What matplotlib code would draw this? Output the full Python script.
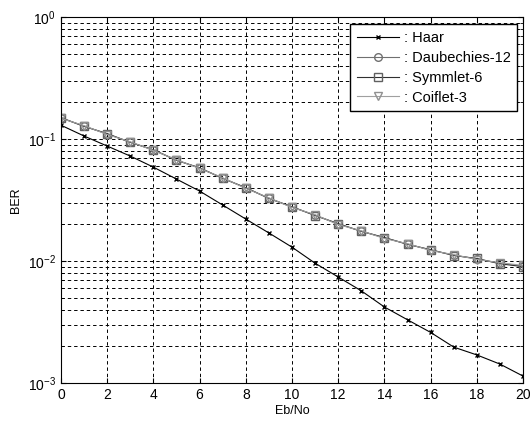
import matplotlib
matplotlib.use("Agg")
import matplotlib.pyplot as plt

plt.rcParams['font.family'] = ['Liberation Sans', 'DejaVu Sans']
plt.rcParams['font.size'] = 9

ebno = list(range(0, 21))

haar = [0.130, 0.106, 0.0877, 0.0726, 0.0589, 0.047, 0.0375, 0.0288, 0.0221,
        0.0170, 0.0130, 0.0096, 0.0074, 0.0057, 0.0042, 0.0033, 0.0026,
        0.00197, 0.0017, 0.00143, 0.00114]
daub12 = [0.149, 0.128, 0.110, 0.0945, 0.0813, 0.0673, 0.0578, 0.0479, 0.0397,
          0.0328, 0.0277, 0.0238, 0.0201, 0.0176, 0.0155, 0.0138, 0.0123,
          0.0112, 0.0104, 0.0096, 0.0091]
symm6 = [0.150, 0.127, 0.111, 0.0940, 0.0818, 0.0670, 0.0582, 0.0476, 0.0400,
         0.0326, 0.0279, 0.0236, 0.0203, 0.0175, 0.0156, 0.0137, 0.0124,
         0.0111, 0.0105, 0.0095, 0.0090]
coif3 = [0.148, 0.129, 0.109, 0.0950, 0.0808, 0.0676, 0.0575, 0.0482, 0.0394,
         0.0330, 0.0275, 0.0240, 0.0199, 0.0177, 0.0153, 0.0139, 0.0122,
         0.0113, 0.0103, 0.0097, 0.0092]

fig = plt.figure(figsize=(5.3, 4.28), dpi=100)
ax = fig.add_axes([0.115, 0.105, 0.872, 0.855])

ax.semilogy(ebno, haar, color='black', marker='x', markersize=3.5, linewidth=0.8,
            label=': Haar')
ax.semilogy(ebno, daub12, color='#707070', marker='o', markersize=5.5, linewidth=0.8,
            markerfacecolor='none', label=': Daubechies-12')
ax.semilogy(ebno, symm6, color='#303030', marker='s', markersize=5.5, linewidth=0.8,
            markerfacecolor='none', markeredgecolor='#606060', label=': Symmlet-6')
ax.semilogy(ebno, coif3, color='#a0a0a0', marker='v', markersize=5.5, linewidth=0.8,
            markerfacecolor='none', markeredgecolor='#909090', label=': Coiflet-3')

ax.set_xlim(0, 20)
ax.set_ylim(1e-3, 1)
ax.set_xticks(range(0, 21, 2))
ax.grid(True, which='major', linestyle=(0, (3.5, 3)), color='black', linewidth=0.7)
ax.grid(True, which='minor', axis='y', linestyle=(0, (3.5, 3)), color='black', linewidth=0.7)
ax.tick_params(which='both', direction='in', top=True, right=True, labelsize=10)
ax.set_xlabel('Eb/No', labelpad=2)
ax.set_ylabel('BER')

ax.legend(loc='upper right', bbox_to_anchor=(0.987, 0.98), fancybox=False,
          edgecolor='black', framealpha=1, borderaxespad=0, handlelength=2.9,
          handletextpad=0.3, fontsize=10.5, labelspacing=0.4, borderpad=0.45)

fig.savefig('out.png')
